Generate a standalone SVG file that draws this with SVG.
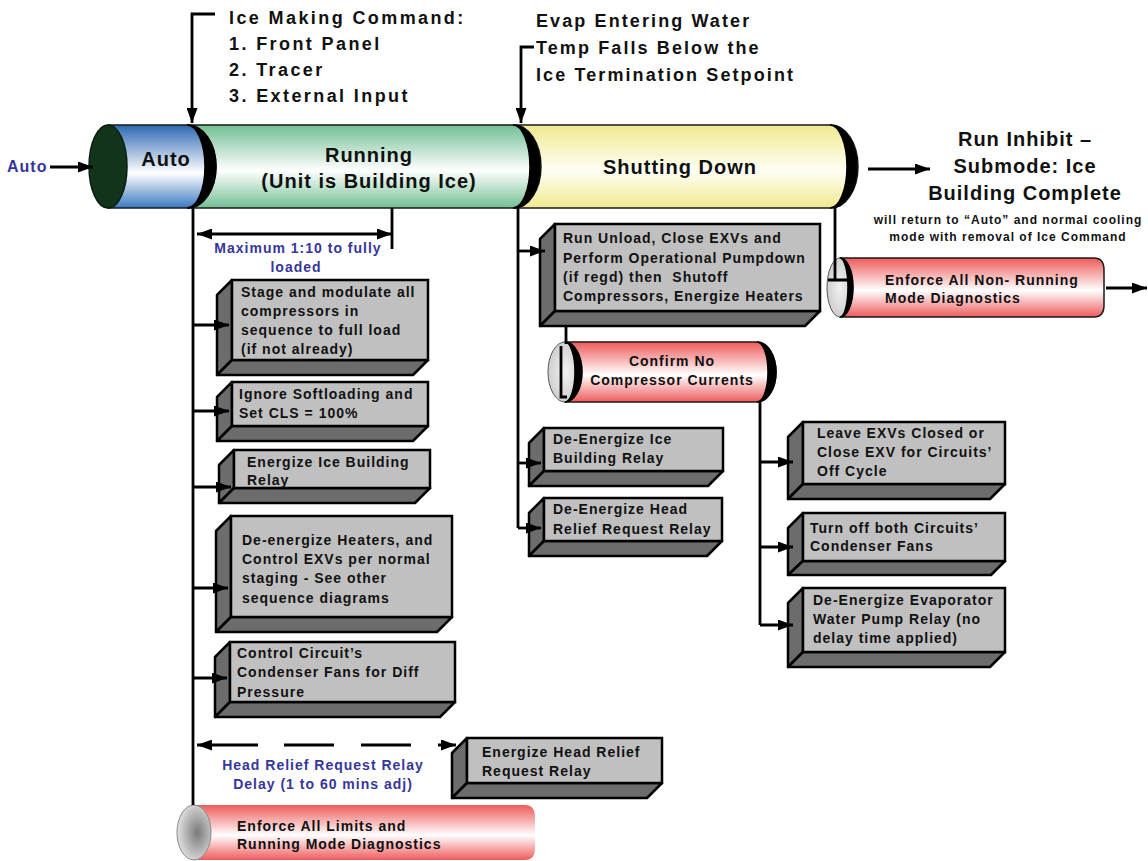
<svg xmlns="http://www.w3.org/2000/svg" width="1148" height="861" viewBox="0 0 1148 861">
<defs>
<style>
text{font-family:"Liberation Sans",Arial,sans-serif;font-weight:bold;fill:#111;}
.b{font-size:14px;letter-spacing:1px;}
.top{font-size:18px;letter-spacing:2.4px;}
.top2{font-size:18px;letter-spacing:2.1px;}
.ttl{font-size:20px;letter-spacing:1px;}
.sm{font-size:12px;letter-spacing:1px;}
.lbl{font-size:16px;letter-spacing:1px;}
.blue{fill:#36369a;}
.mid{text-anchor:middle;}
.ln{stroke:#000;stroke-width:2.8;fill:none;}
.arr{marker-end:url(#ah);}
.arr2{marker-start:url(#ah);marker-end:url(#ah);}
.face{fill:#c0c0c0;stroke:#000;stroke-width:2.5;}
.side{fill:#6c6c6c;stroke:#000;stroke-width:2.5;stroke-linejoin:round;}
.cres{fill:#000;stroke:#000;stroke-width:1.5;}
.body{stroke:#1a1a1a;stroke-width:1.5;}
.gend{fill:url(#gGray);stroke:#555;stroke-width:1;}
</style>
<marker id="ah" viewBox="0 0 15 11" refX="15" refY="5.5" markerWidth="15" markerHeight="11" markerUnits="userSpaceOnUse" orient="auto-start-reverse">
<path d="M0,0 L15,5.5 L0,11 Z" fill="#000"/>
</marker>
<linearGradient id="gBlue" x1="0" y1="0" x2="0" y2="1"><stop offset="0" stop-color="#2d68b2"/><stop offset="0.58" stop-color="#ffffff"/><stop offset="1" stop-color="#3a78c0"/></linearGradient>
<linearGradient id="gGreen" x1="0" y1="0" x2="0" y2="1"><stop offset="0" stop-color="#72bf93"/><stop offset="0.55" stop-color="#ffffff"/><stop offset="1" stop-color="#72bf93"/></linearGradient>
<linearGradient id="gYellow" x1="0" y1="0" x2="0" y2="1"><stop offset="0" stop-color="#efe98f"/><stop offset="0.55" stop-color="#fffff5"/><stop offset="1" stop-color="#efe98f"/></linearGradient>
<linearGradient id="gRed" x1="0" y1="0" x2="0" y2="1"><stop offset="0" stop-color="#ee5b5b"/><stop offset="0.55" stop-color="#ffffff"/><stop offset="1" stop-color="#ee5b5b"/></linearGradient>
<radialGradient id="gGray" cx="0.5" cy="0.5" r="0.6"><stop offset="0" stop-color="#f2f2f2"/><stop offset="1" stop-color="#c8c8c8"/></radialGradient>
<radialGradient id="gGray2" cx="0.6" cy="0.5" r="0.6"><stop offset="0" stop-color="#7a7a7a"/><stop offset="1" stop-color="#e2e2e2"/></radialGradient>
</defs>
<rect width="1148" height="861" fill="#fff"/>

<!-- main cylinder -->
<g id="shutting-down">
<path class="body" fill="url(#gYellow)" d="M514,125 H831 A27,41.5 0 0 1 831,208 H514 Z"/>
<path class="cres" d="M830,125 A27,41.5 0 0 1 830,208 A17,41.5 0 0 0 830,125 Z"/>
<text class="ttl mid" x="680" y="174">Shutting Down</text>
</g>
<g id="running">
<path class="body" fill="url(#gGreen)" d="M188,125 H514 A27,41.5 0 0 1 514,208 H188 Z"/>
<path class="cres" d="M513,125 A27,41.5 0 0 1 513,208 A17,41.5 0 0 0 513,125 Z"/>
<text class="ttl mid" x="369" y="162">Running</text>
<text class="ttl mid" x="369" y="188">(Unit is Building Ice)</text>
</g>
<g id="auto">
<path class="body" fill="url(#gBlue)" d="M108,125 H188 A28,41.5 0 0 1 188,208 H108 Z"/>
<path class="cres" d="M187,125 A29,41.5 0 0 1 187,208 A18,41.5 0 0 0 187,125 Z"/>
<ellipse cx="108" cy="166.5" rx="19" ry="41.5" fill="#12341b" stroke="#0a1f0f" stroke-width="1.5"/>
<text class="ttl mid" x="166" y="166">Auto</text>
</g>
<g id="auto-label">
<text class="lbl blue" x="7" y="172">Auto</text>
</g>

<g id="ice-cmd-label">
<text class="top" x="229" y="24">Ice Making Command:</text>
<text class="top" x="229" y="50">1.  Front Panel</text>
<text class="top" x="229" y="76">2.  Tracer</text>
<text class="top" x="229" y="102">3.  External Input</text>
</g>
<g id="evap-label">
<text class="top2" x="536" y="27">Evap Entering Water</text>
<text class="top2" x="536" y="54">Temp Falls Below the</text>
<text class="top2" x="536" y="81">Ice Termination Setpoint</text>
</g>

<g id="run-inhibit">
<text class="ttl mid" x="1025" y="146">Run Inhibit –</text>
<text class="ttl mid" x="1025" y="173">Submode: Ice</text>
<text class="ttl mid" x="1025" y="200">Building Complete</text>
<text class="sm mid" x="1008" y="224">will return to “Auto” and normal cooling</text>
<text class="sm mid" x="1008" y="241">mode with removal of Ice Command</text>
</g>

<g id="non-running">
<path class="body" fill="url(#gRed)" stroke="none" d="M840,258 H1094 Q1104,258 1104,270 V305 Q1104,317 1094,317 H840 Z"/>
<ellipse class="gend" cx="840" cy="287.5" rx="13" ry="29.5"/>
<path class="cres" d="M840,258 A13,29.5 0 0 1 840,317 A8,29.5 0 0 0 840,258 Z"/>
<text class="b" x="885" y="285">Enforce All Non- Running</text>
<text class="b" x="885" y="303">Mode Diagnostics</text>
</g>

<g id="confirm">
<path class="body" fill="url(#gRed)" stroke="none" d="M565,342 H757 A19,30 0 0 1 757,402 H565 Z"/>
<path class="cres" d="M757,342 A19,30 0 0 1 757,402 A11,30 0 0 0 757,342 Z"/>
<ellipse class="gend" cx="565" cy="372" rx="17" ry="30"/>
<path class="cres" d="M565,342 A17,30 0 0 1 565,402 A10,30 0 0 0 565,342 Z"/>
<text class="b mid" x="672" y="366">Confirm No</text>
<text class="b mid" x="672" y="385">Compressor Currents</text>
</g>

<g id="enforce-limits">
<path fill="url(#gRed)" d="M194,805 H525 Q535,805 535,817 V848 Q535,860 525,860 H194 Z"/>
<ellipse cx="194" cy="832.5" rx="17" ry="27.5" fill="url(#gGray2)" stroke="#888" stroke-width="1"/>
<text class="b" x="237" y="831">Enforce All Limits and</text>
<text class="b" x="237" y="849">Running Mode Diagnostics</text>
</g>

<!-- boxes -->
<g id="box-stage">
<polygon class="side" points="217,295 232,280 232,360 217,375"/>
<polygon class="side" points="217,375 232,360 428,360 413,375"/>
<rect class="face" x="232" y="280" width="196" height="80"/>
<text class="b" x="241" y="297">Stage and modulate all</text>
<text class="b" x="241" y="316">compressors in</text>
<text class="b" x="241" y="335">sequence to full load</text>
<text class="b" x="241" y="354">(if not already)</text>
</g>
<g id="box-ignore">
<polygon class="side" points="217,397 232,382 232,426 217,441"/>
<polygon class="side" points="217,441 232,426 428,426 413,441"/>
<rect class="face" x="232" y="382" width="196" height="44"/>
<text class="b" x="239" y="399">Ignore Softloading and</text>
<text class="b" x="239" y="418">Set CLS = 100%</text>
</g>
<g id="box-energize-ice">
<polygon class="side" points="219,465 234,450 234,488 219,503"/>
<polygon class="side" points="219,503 234,488 430,488 415,503"/>
<rect class="face" x="234" y="450" width="196" height="38"/>
<text class="b" x="247" y="467">Energize Ice Building</text>
<text class="b" x="247" y="485">Relay</text>
</g>
<g id="box-deenergize-heaters">
<polygon class="side" points="216,531 231,516 231,617 216,632"/>
<polygon class="side" points="216,632 231,617 452,617 437,632"/>
<rect class="face" x="231" y="516" width="221" height="101"/>
<text class="b" x="242" y="545">De-energize Heaters, and</text>
<text class="b" x="242" y="564">Control EXVs per normal</text>
<text class="b" x="242" y="583">staging - See other</text>
<text class="b" x="242" y="603">sequence diagrams</text>
</g>
<g id="box-control-fans">
<polygon class="side" points="215,657 230,642 230,702 215,717"/>
<polygon class="side" points="215,717 230,702 455,702 440,717"/>
<rect class="face" x="230" y="642" width="225" height="60"/>
<text class="b" x="237" y="658">Control Circuit’s</text>
<text class="b" x="237" y="677">Condenser Fans for Diff</text>
<text class="b" x="237" y="697">Pressure</text>
</g>
<g id="box-run-unload">
<polygon class="side" points="540,239 555,224 555,311 540,326"/>
<polygon class="side" points="540,326 555,311 820,311 805,326"/>
<rect class="face" x="555" y="224" width="265" height="87"/>
<text class="b" x="563" y="243">Run Unload, Close EXVs and</text>
<text class="b" x="563" y="263">Perform Operational Pumpdown</text>
<text class="b" x="563" y="282" style="white-space:pre">(if regd) then  Shutoff</text>
<text class="b" x="563" y="301">Compressors, Energize Heaters</text>
</g>
<g id="box-deenergize-ice">
<polygon class="side" points="529,443 544,428 544,471 529,486"/>
<polygon class="side" points="529,486 544,471 723,471 708,486"/>
<rect class="face" x="544" y="428" width="179" height="43"/>
<text class="b" x="553" y="444">De-Energize Ice</text>
<text class="b" x="553" y="463">Building Relay</text>
</g>
<g id="box-deenergize-head">
<polygon class="side" points="529,513 544,498 544,541 529,556"/>
<polygon class="side" points="529,556 544,541 722,541 707,556"/>
<rect class="face" x="544" y="498" width="178" height="43"/>
<text class="b" x="553" y="514">De-Energize Head</text>
<text class="b" x="553" y="534">Relief Request Relay</text>
</g>
<g id="box-leave-exv">
<polygon class="side" points="788,437 803,422 803,484 788,499"/>
<polygon class="side" points="788,499 803,484 1005,484 990,499"/>
<rect class="face" x="803" y="422" width="202" height="62"/>
<text class="b" x="817" y="438">Leave EXVs Closed or</text>
<text class="b" x="817" y="457">Close EXV for Circuits’</text>
<text class="b" x="817" y="476">Off Cycle</text>
</g>
<g id="box-turn-off">
<polygon class="side" points="788,528 803,513 803,561 788,575"/>
<polygon class="side" points="788,575 803,561 1005,561 991,575"/>
<rect class="face" x="803" y="513" width="202" height="48"/>
<text class="b" x="810" y="533">Turn off both Circuits’</text>
<text class="b" x="810" y="551">Condenser Fans</text>
</g>
<g id="box-evap-pump">
<polygon class="side" points="788,603 803,588 803,652 788,667"/>
<polygon class="side" points="788,667 803,652 1005,652 990,667"/>
<rect class="face" x="803" y="588" width="202" height="64"/>
<text class="b" x="813" y="605">De-Energize Evaporator</text>
<text class="b" x="813" y="624">Water Pump Relay (no</text>
<text class="b" x="813" y="643">delay time applied)</text>
</g>
<g id="box-head-relief">
<polygon class="side" points="452,753 467,738 467,783 452,798"/>
<polygon class="side" points="452,798 467,783 662,783 647,798"/>
<rect class="face" x="467" y="738" width="195" height="45"/>
<text class="b" x="482" y="757">Energize Head Relief</text>
<text class="b" x="482" y="776">Request Relay</text>
</g>

<g id="timing-labels">
<text class="b blue mid" x="298" y="253">Maximum 1:10 to fully</text>
<text class="b blue mid" x="296" y="272">loaded</text>
<text class="b blue mid" x="323" y="770">Head Relief Request Relay</text>
<text class="b blue mid" x="323" y="789">Delay (1 to 60 mins adj)</text>
</g>

<g id="connectors">
<path class="ln arr" d="M50,167 H93"/>
<path class="ln arr" d="M215,14 H192 V123"/>
<path class="ln arr" d="M534,47 H521 V123"/>
<path class="ln" d="M193,208 V805"/>
<path class="ln arr" d="M193,325 H229"/>
<path class="ln arr" d="M193,411 H229"/>
<path class="ln arr" d="M193,487 H231"/>
<path class="ln arr" d="M193,588 H228"/>
<path class="ln arr" d="M193,678 H227"/>
<path class="ln arr2" d="M197,234 H392"/>
<path class="ln" d="M392,208 V249"/>
<path class="ln arr2" stroke-dasharray="61 26 50 27 50 27 30" d="M197,745 H456"/>
<path class="ln" d="M518,208 V528"/>
<path class="ln arr" d="M518,251 H545"/>
<path class="ln arr" d="M518,463 H541"/>
<path class="ln arr" d="M518,528 H541"/>
<path class="ln" d="M566,326 V344"/>
<path class="ln" stroke-width="4" d="M561,346 V397 H567"/>
<path class="ln" d="M760,402 V625"/>
<path class="ln arr" d="M760,462 H793"/>
<path class="ln arr" d="M760,547 H793"/>
<path class="ln arr" d="M760,625 H793"/>
<path class="ln" d="M835,208 V280 M828,280 H853"/>
<path class="ln arr" d="M868,169 H930"/>
<path class="ln arr" d="M1106,288 H1147"/>
</g>
</svg>
